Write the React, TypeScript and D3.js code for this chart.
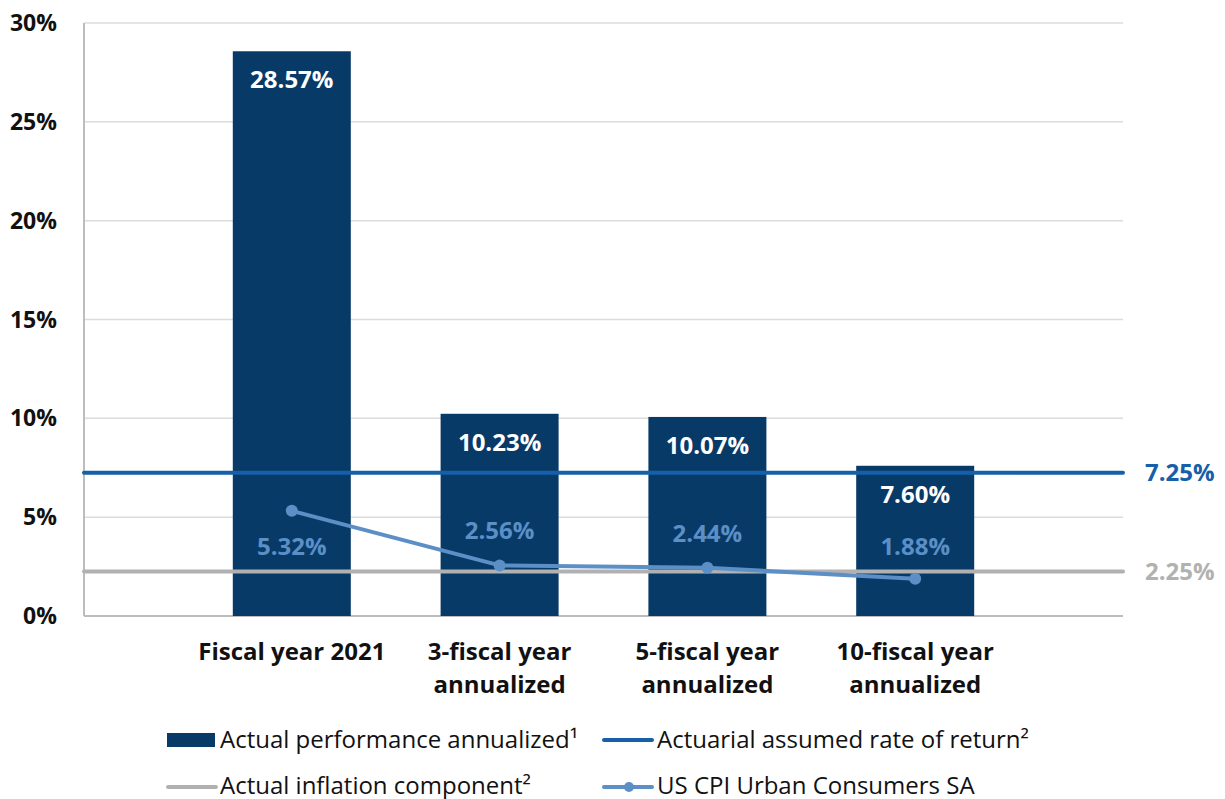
import React from "react";
import * as d3 from "d3";

const categories: string[][] = [
  ["Fiscal year 2021"],
  ["3-fiscal year", "annualized"],
  ["5-fiscal year", "annualized"],
  ["10-fiscal year", "annualized"],
];
const performance = [28.57, 10.23, 10.07, 7.6];
const cpi = [5.32, 2.56, 2.44, 1.88];
const assumedRate = 7.25;
const inflation = 2.25;
const yTicks = [0, 5, 10, 15, 20, 25, 30];
const legendItems = [
  "Actual performance annualized¹",
  "Actuarial assumed rate of return²",
  "Actual inflation component²",
  "US CPI Urban Consumers SA",
];
// label offsets (style) for CPI labels relative to their points
const cpiLabelDy = [44, -26, -26, -24];

const W = 1225;
const H = 799;
const FONT = "'Open Sans', 'Noto Sans', sans-serif";
const BAR = "#083a68";
const RATE = "#1560a8";
const GRAY = "#b1b1b1";
const CPI = "#5b8fc6";

export default function App() {
  const x = d3.scaleLinear().domain([0, 5]).range([84, 1123]);
  const y = d3.scaleLinear().domain([0, 30]).range([616, 23]);
  const barW = 118;
  const line = d3
    .line<number>()
    .x((_, i) => x(i + 1))
    .y((d) => y(d));

  return (
    <svg
      width={W}
      height={H}
      style={{ position: "absolute", left: 0, top: 0, fontFamily: FONT }}
    >
      <rect width={W} height={H} fill="#fff" />
      {/* gridlines */}
      {yTicks.map((t) => (
        <line
          key={t}
          x1={x(0)}
          x2={x(5)}
          y1={y(t)}
          y2={y(t)}
          stroke={t === 0 ? "#bdbdbd" : "#dcdcdc"}
          strokeWidth={t === 0 ? 2 : 1.5}
        />
      ))}
      <line x1={x(0)} x2={x(0)} y1={y(30)} y2={y(0)} stroke="#bdbdbd" strokeWidth={2} />
      {yTicks.map((t) => (
        <text
          key={t}
          x={57}
          y={y(t)}
          dy="0.35em"
          textAnchor="end"
          fontSize={23}
          fontWeight={700}
          fill="#111"
        >
          {t}%
        </text>
      ))}
      {/* bars */}
      {performance.map((v, i) => (
        <g key={i}>
          <rect
            x={x(i + 1) - barW / 2}
            y={y(v)}
            width={barW}
            height={y(0) - y(v)}
            fill={BAR}
          />
          <text
            x={x(i + 1)}
            y={y(v) + 37}
            textAnchor="middle"
            fontSize={24}
            fontWeight={700}
            fill="#fff"
          >
            {v.toFixed(2)}%
          </text>
        </g>
      ))}
      {/* horizontal reference lines */}
      <line
        x1={x(0)}
        x2={x(5)}
        y1={y(assumedRate)}
        y2={y(assumedRate)}
        stroke={RATE}
        strokeWidth={4}
        strokeLinecap="round"
      />
      <text x={1145} y={y(assumedRate)} dy="0.35em" fontSize={24} fontWeight={700} fill={RATE}>
        {assumedRate.toFixed(2)}%
      </text>
      <line
        x1={x(0)}
        x2={x(5)}
        y1={y(inflation)}
        y2={y(inflation)}
        stroke={GRAY}
        strokeWidth={4}
        strokeLinecap="round"
      />
      <text x={1145} y={y(inflation)} dy="0.35em" fontSize={24} fontWeight={700} fill={GRAY}>
        {inflation.toFixed(2)}%
      </text>
      {/* CPI line */}
      <path d={line(cpi) || ""} fill="none" stroke={CPI} strokeWidth={4} strokeLinejoin="round" />
      {cpi.map((v, i) => (
        <g key={i}>
          <circle cx={x(i + 1)} cy={y(v)} r={6} fill={CPI} />
          <text
            x={x(i + 1)}
            y={y(v) + cpiLabelDy[i]}
            textAnchor="middle"
            fontSize={24}
            fontWeight={700}
            fill={CPI}
          >
            {v.toFixed(2)}%
          </text>
        </g>
      ))}
      {/* category labels */}
      {categories.map((c, i) => (
        <text
          key={i}
          x={x(i + 1)}
          y={660}
          textAnchor="middle"
          fontSize={24}
          fontWeight={700}
          fill="#111"
        >
          {c.map((ln, j) => (
            <tspan key={j} x={x(i + 1)} dy={j === 0 ? 0 : 33}>
              {ln}
            </tspan>
          ))}
        </text>
      ))}
      {/* legend */}
      <g fontSize={24} fill="#111">
        <rect x={167} y={733} width={48} height={14} fill={BAR} />
        <text x={220} y={748}>{legendItems[0]}</text>
        <line x1={604} x2={652} y1={740} y2={740} stroke={RATE} strokeWidth={4} strokeLinecap="round" />
        <text x={657} y={748}>{legendItems[1]}</text>
        <line x1={168} x2={216} y1={787} y2={787} stroke={GRAY} strokeWidth={4} strokeLinecap="round" />
        <text x={220} y={794}>{legendItems[2]}</text>
        <line x1={604} x2={652} y1={787} y2={787} stroke={CPI} strokeWidth={4} strokeLinecap="round" />
        <circle cx={629} cy={787} r={5} fill={CPI} />
        <text x={657} y={794}>{legendItems[3]}</text>
      </g>
    </svg>
  );
}
